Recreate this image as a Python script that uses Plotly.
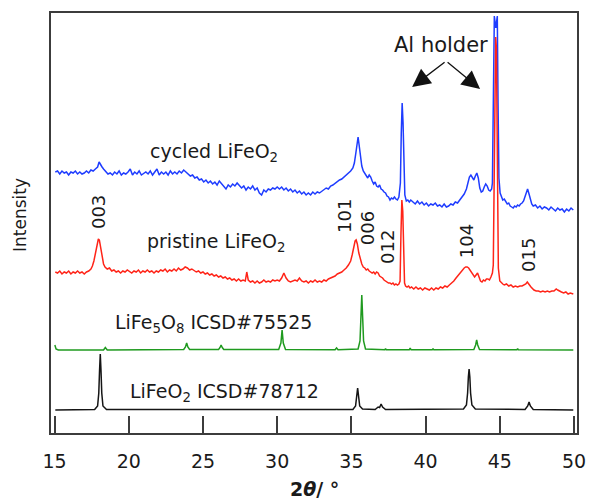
import plotly.graph_objects as go

# ---------------- data (2theta in degrees, intensity in arbitrary offset units) ----------------
cycled_x = [15.05,15.2,15.35,15.5,15.65,15.8,15.95,16.1,16.25,16.4,16.55,16.7,16.85,17.0,17.15,17.3,17.45,17.6,17.75,17.9,
            18.0,18.1,18.2,18.3,18.45,18.6,18.75,18.9,19.05,19.2,19.35,19.5,19.65,19.8,19.95,20.1,20.25,20.4,20.55,20.7,
            20.85,21.0,21.15,21.3,21.45,21.6,21.75,21.9,22.05,22.2,22.35,22.5,22.65,22.8,22.95,23.1,23.25,23.4,23.55,23.7,
            23.85,24.0,24.15,24.3,24.45,24.6,24.75,24.9,25.05,25.2,25.35,25.5,25.65,25.8,25.95,26.1,26.25,26.4,26.55,26.7,
            26.85,27.0,27.15,27.3,27.45,27.6,27.75,27.9,28.05,28.2,28.35,28.5,28.65,28.8,28.95,29.1,29.25,29.4,29.55,29.7,
            29.85,30.0,30.15,30.3,30.45,30.6,30.75,30.9,31.05,31.2,31.35,31.5,31.65,31.8,31.95,32.1,32.25,32.4,32.55,32.7,
            32.85,33.0,33.15,33.3,33.45,33.6,33.75,33.9,34.05,34.2,34.35,34.5,34.65,34.8,34.95,35.1,35.2,35.3,35.38,35.45,
            35.52,35.6,35.7,35.8,35.9,36.0,36.1,36.2,36.3,36.4,36.5,36.6,36.7,36.8,36.9,37.0,37.1,37.2,37.3,37.4,
            37.5,37.6,37.7,37.8,37.9,38.0,38.1,38.2,38.3,38.36,38.42,38.48,38.54,38.6,38.7,38.8,38.9,39.0,39.15,39.3,
            39.45,39.6,39.75,39.9,40.05,40.2,40.35,40.5,40.65,40.8,40.95,41.1,41.25,41.4,41.55,41.7,41.85,42.0,42.15,42.3,
            42.45,42.6,42.75,42.85,42.95,43.05,43.15,43.25,43.35,43.45,43.55,43.65,43.75,43.85,43.95,44.05,44.15,44.25,44.35,44.45,
            44.5,44.58,44.63,44.73,44.83,44.88,44.94,45.02,45.1,45.2,45.3,45.4,45.5,45.6,45.7,45.8,45.9,46.0,46.1,46.2,
            46.3,46.4,46.5,46.6,46.7,46.8,46.87,46.95,47.05,47.15,47.25,47.4,47.55,47.7,47.85,48.0,48.15,48.3,48.45,48.6,
            48.75,48.9,49.05,49.2,49.35,49.5,49.65,49.8,49.95]
cycled_y = [261,262,259,262,260,261,258,261,260,262,259,261,259,260,262,260,263,262,264,266,
            271,268,266,264,261,259,260,258,261,259,262,258,260,259,261,264,258,261,259,262,
            258,260,261,259,262,258,261,264,258,261,259,261,258,262,259,261,259,262,260,263,
            261,259,257,258,255,256,253,254,251,253,250,252,249,251,248,252,249,247,244,248,
            246,249,247,250,248,245,247,243,246,244,247,243,245,240,238,243,241,244,243,245,
            244,246,244,246,243,245,242,244,241,243,240,242,239,241,238,240,238,241,239,241,
            240,242,243,245,244,247,248,250,251,253,254,256,258,259,262,265,270,280,292,296,
            288,276,267,262,260,257,255,258,256,252,249,251,247,246,248,244,243,241,240,237,
            236,233,235,234,236,234,233,236,250,300,330,310,260,238,232,233,231,233,231,229,
            232,229,231,228,230,227,229,228,230,227,228,226,229,226,227,229,228,231,230,233,
            235,239,244,250,256,258,255,253,257,260,255,245,241,242,246,249,247,243,242,244,
            250,330,417,405,417,330,255,240,236,233,234,231,229,230,227,226,225,227,226,228,
            227,229,230,232,236,241,244,240,234,229,227,228,225,227,224,226,225,223,226,224,
            222,225,223,224,221,224,222,225,223]

pristine_x = [15.05,15.2,15.35,15.5,15.65,15.8,15.95,16.1,16.25,16.4,16.55,16.7,16.85,17.0,17.15,17.3,17.45,17.55,17.65,17.75,
              17.85,17.95,18.02,18.1,18.2,18.3,18.4,18.55,18.7,18.85,19.0,19.15,19.3,19.45,19.6,19.75,19.9,20.05,20.2,20.35,
              20.5,20.65,20.8,20.95,21.1,21.25,21.4,21.55,21.7,21.85,22.0,22.15,22.3,22.45,22.6,22.75,22.9,23.05,23.2,23.35,
              23.5,23.65,23.8,23.95,24.1,24.25,24.4,24.55,24.7,24.85,25.0,25.15,25.3,25.45,25.6,25.75,25.9,26.05,26.2,26.35,
              26.5,26.65,26.8,26.95,27.1,27.25,27.4,27.55,27.7,27.85,27.95,28.05,28.2,28.35,28.5,28.65,28.8,28.95,29.1,29.25,
              29.4,29.55,29.7,29.85,30.0,30.15,30.3,30.45,30.6,30.75,30.9,31.05,31.2,31.35,31.5,31.65,31.8,31.95,32.1,32.25,
              32.4,32.55,32.7,32.85,33.0,33.15,33.3,33.45,33.6,33.75,33.9,34.05,34.2,34.35,34.5,34.65,34.8,34.95,35.05,35.15,
              35.25,35.32,35.4,35.5,35.6,35.7,35.8,35.9,36.0,36.1,36.2,36.3,36.4,36.5,36.6,36.7,36.8,36.9,37.0,37.1,
              37.2,37.3,37.4,37.5,37.6,37.7,37.8,37.9,38.0,38.1,38.2,38.28,38.34,38.4,38.46,38.52,38.58,38.65,38.75,38.85,
              38.95,39.05,39.2,39.35,39.5,39.65,39.8,39.95,40.1,40.25,40.4,40.55,40.7,40.85,41.0,41.15,41.3,41.45,41.6,41.75,
              41.9,42.05,42.2,42.35,42.5,42.6,42.7,42.8,42.9,43.0,43.1,43.2,43.3,43.4,43.5,43.6,43.7,43.8,43.9,44.0,
              44.1,44.2,44.3,44.4,44.5,44.56,44.62,44.68,44.72,44.77,44.83,44.9,45.0,45.1,45.2,45.3,45.45,45.6,45.75,45.9,
              46.05,46.2,46.35,46.5,46.65,46.75,46.85,46.92,47.0,47.1,47.2,47.3,47.45,47.6,47.75,47.9,48.05,48.2,48.35,48.5,
              48.65,48.8,48.9,49.0,49.15,49.3,49.45,49.6,49.75,49.95]
pristine_y = [161,160,162,159,161,160,162,159,161,160,162,160,161,159,161,162,164,167,172,180,
              188,194,193,187,177,169,166,164,165,162,163,161,162,160,162,161,163,161,160,162,
              161,163,160,162,161,163,161,162,160,162,161,163,162,164,161,163,162,164,162,165,
              163,164,166,165,163,164,162,161,162,160,161,159,160,158,159,157,158,156,157,155,
              156,154,155,153,154,152,154,152,153,152,161,153,151,152,150,152,150,151,153,151,
              152,151,153,152,153,152,155,160,155,152,151,152,153,152,155,152,151,152,150,152,
              151,153,151,152,151,153,152,154,155,156,157,159,160,161,163,165,168,172,178,186,
              192,193,189,180,173,169,166,165,163,164,162,161,160,161,159,161,160,157,156,155,
              153,152,151,150,150,149,150,148,149,148,149,152,200,233,222,175,150,147,146,147,
              145,146,144,146,144,145,143,145,144,143,145,143,145,144,146,145,147,146,148,150,
              152,155,158,161,164,165,166,166,165,163,161,158,156,158,160,156,152,151,153,152,
              154,154,153,156,160,168,250,385,396,385,250,165,152,150,149,148,149,147,148,146,
              147,146,147,147,148,149,151,150,148,146,144,143,142,142,141,142,141,142,141,142,
              142,144,143,142,141,140,141,139,140,139]

ferrite_x = [15.02,15.1,15.25,18.3,18.42,18.55,23.7,23.82,23.9,23.98,24.1,26.05,26.15,26.22,26.3,26.4,30.1,30.25,30.33,30.41,
             30.56,33.9,34.0,34.1,35.45,35.58,35.64,35.7,35.76,35.82,35.95,37.25,37.3,37.35,38.9,38.96,39.02,40.45,40.5,40.55,
             43.25,43.37,43.44,43.51,43.63,46.15,46.2,46.25,49.95]
ferrite_y = [88,84,83,83,85.5,83,83.5,86,90,86,83.5,83.5,85.5,88,85.5,83.5,83.5,90,103,90,
             83.5,83.2,85,83.2,84,92,115,138,115,92,84,83.2,84.5,83.2,83.2,85,83.2,83.2,84.5,83.2,
             83.5,88,93,88,83.5,83.2,84.5,83.2,83]

ref_x = [15.05,17.7,17.9,17.98,18.03,18.08,18.13,18.18,18.26,18.5,35.1,35.28,35.35,35.42,35.49,35.56,35.75,36.6,36.8,36.9,
         37.0,37.1,37.3,42.55,42.75,42.83,42.88,42.93,42.98,43.03,43.12,43.35,46.7,46.88,46.97,47.06,47.25,49.95]
ref_y = [23,23.5,27,40,62,79,62,40,27,23.5,23.5,27,36,45,36,27,24,23.5,26,25.5,
         29,26,23.5,24,28,40,56,64,56,40,28,24,23.5,27,31,27,23.5,23]

x_ticks = [15, 20, 25, 30, 35, 40, 45, 50]

FONT = "DejaVu Sans"
BLUE = "#1e3cff"
RED = "#ff2418"
GREEN = "#1f9a1f"
BLACK = "#151515"
FRAME = "#3c3c3c"
TEXT = "#1a1a1a"

fig = go.Figure()
fig.add_trace(go.Scatter(x=ref_x, y=ref_y, mode="lines", line=dict(color=BLACK, width=1.5)))
fig.add_trace(go.Scatter(x=ferrite_x, y=ferrite_y, mode="lines", line=dict(color=GREEN, width=1.5)))
fig.add_trace(go.Scatter(x=cycled_x, y=cycled_y, mode="lines", line=dict(color=BLUE, width=1.5)))
fig.add_trace(go.Scatter(x=pristine_x, y=pristine_y, mode="lines", line=dict(color=RED, width=1.5)))

ann = []
def label(text, x, y, xanchor="left", angle=0, size=19):
    ann.append(dict(text=text, x=x, y=y, xref="x", yref="y", showarrow=False, xanchor=xanchor,
                    yanchor="middle", textangle=angle, font=dict(family=FONT, size=size, color=TEXT)))

label("cycled LiFeO<sub>2</sub>", 21.3, 281)
label("pristine LiFeO<sub>2</sub>", 21.1, 191)
label("LiFe<sub>5</sub>O<sub>8</sub> ICSD#75525", 18.94, 110)
label("LiFeO<sub>2</sub> ICSD#78712", 19.95, 41)
for t, x, y in [("003", 17.93, 221), ("101", 34.5, 217), ("006", 36.06, 205),
                ("012", 37.4, 186), ("104", 42.73, 192), ("015", 46.9, 178)]:
    label(t, x, y, xanchor="center", angle=-90, size=18)
label("Al holder", 41.04, 388, xanchor="center", size=21)

for tipx, tipy in [(39.09, 346), (43.67, 344)]:
    ann.append(dict(x=tipx, y=tipy, ax=41.38, ay=372, xref="x", yref="y", axref="x", ayref="y",
                    text="", showarrow=True, arrowhead=2, arrowsize=2.8, arrowwidth=1.3, arrowcolor="#111"))

ann.append(dict(text="Intensity", xref="paper", yref="paper", x=0, y=0.519, xshift=-31, showarrow=False,
                textangle=-90, xanchor="center", yanchor="middle", font=dict(family=FONT, size=17, color=TEXT)))
ann.append(dict(text="<b>2<i>θ</i>/ °</b>", xref="paper", yref="paper", x=0.5, y=0, yshift=-56, showarrow=False,
                xanchor="center", yanchor="middle", font=dict(family=FONT, size=19, color=TEXT)))

fig.update_layout(
    width=589, height=504,
    autosize=False,
    margin=dict(l=51, r=12, t=13, b=71, autoexpand=False),
    paper_bgcolor="white", plot_bgcolor="white",
    showlegend=False,
    annotations=ann,
    xaxis=dict(range=[14.76, 50.2], tickvals=x_ticks, ticktext=[str(v) for v in x_ticks],
               ticks="inside", ticklen=17, tickwidth=1.5, tickcolor=FRAME,
               showline=True, linecolor=FRAME, linewidth=1.5, mirror=True, automargin=False,
               showgrid=False, zeroline=False, ticklabelstandoff=10,
               tickfont=dict(family=FONT, size=19, color=TEXT)),
    yaxis=dict(range=[0, 420], showticklabels=False, ticks="", automargin=False,
               showline=True, linecolor=FRAME, linewidth=1.5, mirror=True,
               showgrid=False, zeroline=False),
)

fig.write_html("out.html",
               config={"responsive": False, "displayModeBar": False},
               post_script="document.body.style.margin='0';document.body.style.padding='0';"
                           "document.body.style.overflow='hidden';document.documentElement.style.overflow='hidden';")
